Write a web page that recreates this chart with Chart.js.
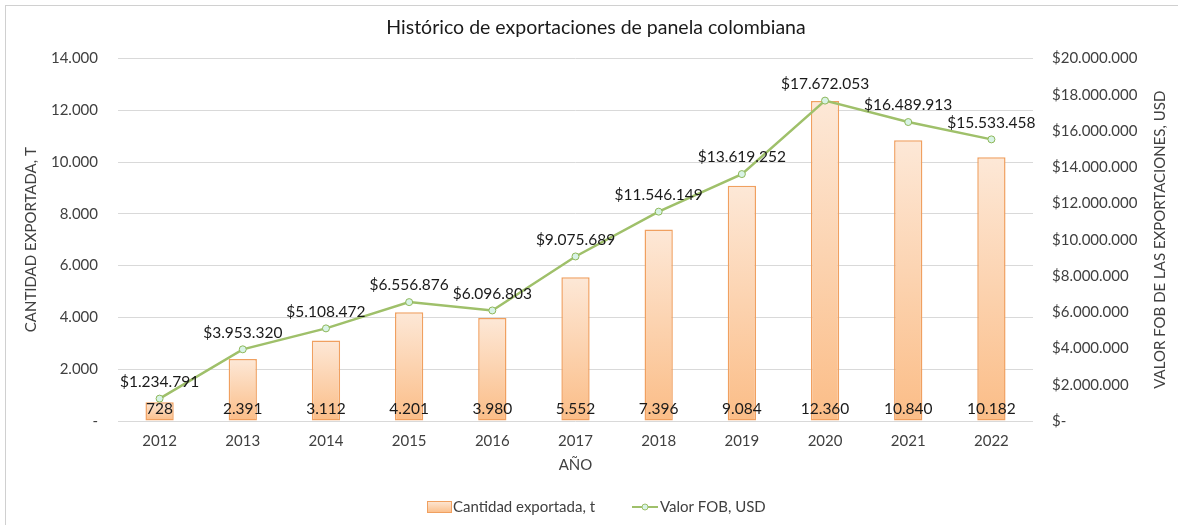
<!DOCTYPE html>
<html>
<head>
<meta charset="utf-8">
<script src="https://cdn.jsdelivr.net/npm/chart.js@4/dist/chart.umd.min.js"></script>
<style>
  html, body { margin: 0; padding: 0; background: #fff; }
  #wrap { width: 1178px; height: 525px; position: relative; }
</style>
</head>
<body>
<div id="wrap"><canvas id="panela"></canvas></div>
<script>
const years = ['2012', '2013', '2014', '2015', '2016', '2017', '2018', '2019', '2020', '2021', '2022'];
const cantidad = [728, 2391, 3112, 4201, 3980, 5552, 7396, 9084, 12360, 10840, 10182];
const valorFob = [1234791, 3953320, 5108472, 6556876, 6096803, 9075689, 11546149, 13619252, 17672053, 16489913, 15533458];

const FONT = 'Lato, "Open Sans", sans-serif';
const TXT = '#404040';

function fmt(n) {
  return String(Math.round(n)).replace(/\B(?=(\d{3})+(?!\d))/g, '.');
}

// bar fill: light at top, stronger orange at base
function barFill(context) {
  const chart = context.chart;
  const y = chart.scales && chart.scales.y;
  if (!y || context.raw == null) return '#fbd3b0';
  const top = y.getPixelForValue(context.raw);
  const base = y.getPixelForValue(0);
  if (!isFinite(top) || !isFinite(base) || top === base) return '#fbd3b0';
  const g = chart.ctx.createLinearGradient(0, top, 0, base);
  g.addColorStop(0, '#fde8d7');
  g.addColorStop(1, '#fbbd87');
  return g;
}

const labelsPlugin = {
  id: 'valueLabels',
  afterDatasetsDraw(chart) {
    const ctx = chart.ctx;
    ctx.save();
    ctx.font = '15.5px ' + FONT;
    ctx.fillStyle = '#1a1a1a';
    ctx.textAlign = 'center';
    ctx.textBaseline = 'bottom';
    // bar labels at inside base
    const base = chart.scales.y.getPixelForValue(0);
    chart.getDatasetMeta(1).data.forEach((bar, i) => {
      ctx.fillText(fmt(cantidad[i]), bar.x, base - 4);
    });
    // line labels above points
    chart.getDatasetMeta(0).data.forEach((pt, i) => {
      ctx.fillText('$' + fmt(valorFob[i]), pt.x, pt.y - 9);
    });
    ctx.restore();
  }
};

const framePlugin = {
  id: 'frame',
  beforeDraw(chart) {
    const ctx = chart.ctx;
    ctx.save();
    ctx.fillStyle = '#fff';
    ctx.fillRect(0, 0, chart.width, chart.height);
    ctx.strokeStyle = '#d0d0d0';
    ctx.lineWidth = 1;
    ctx.strokeRect(5.5, 5.5, chart.width + 20, chart.height + 20);
    ctx.restore();
  },
  afterDraw(chart) {
    const ctx = chart.ctx;
    const ds = chart.data.datasets;
    const area = chart.chartArea;
    ctx.save();
    // right axis title, reading bottom to top
    ctx.font = '15px ' + FONT;
    ctx.fillStyle = TXT;
    ctx.textAlign = 'center';
    ctx.textBaseline = 'middle';
    ctx.translate(1160, (area.top + area.bottom) / 2);
    ctx.rotate(-Math.PI / 2);
    ctx.fillText('VALOR FOB DE LAS EXPORTACIONES, USD', 0, 0);
    ctx.restore();

    // legend at the bottom
    ctx.save();
    ctx.font = '15px ' + FONT;
    ctx.textBaseline = 'middle';
    ctx.textAlign = 'left';
    const yMid = 507;
    let x = 427;
    const g = ctx.createLinearGradient(0, yMid - 6, 0, yMid + 6);
    g.addColorStop(0, '#fde8d7');
    g.addColorStop(1, '#fbbd87');
    ctx.fillStyle = g;
    ctx.fillRect(x, yMid - 6, 25, 12);
    ctx.strokeStyle = '#f0a060';
    ctx.strokeRect(x + 0.5, yMid - 5.5, 24, 11);
    ctx.fillStyle = TXT;
    ctx.fillText(ds[1].label, x + 26, yMid);
    x = 632;
    ctx.strokeStyle = '#9fc06a';
    ctx.lineWidth = 2;
    ctx.beginPath();
    ctx.moveTo(x, yMid);
    ctx.lineTo(x + 26, yMid);
    ctx.stroke();
    ctx.beginPath();
    ctx.arc(x + 13, yMid, 3, 0, Math.PI * 2);
    ctx.fillStyle = '#d8f3e6';
    ctx.fill();
    ctx.lineWidth = 1;
    ctx.stroke();
    ctx.fillStyle = TXT;
    ctx.fillText(ds[0].label, x + 28, yMid);
    ctx.restore();
  }
};

new Chart(document.getElementById('panela'), {
  data: {
    labels: years,
    datasets: [
      {
        type: 'line',
        label: 'Valor FOB, USD',
        data: valorFob,
        yAxisID: 'y1',
        borderColor: '#9fc06a',
        borderWidth: 2.5,
        pointRadius: 3.5,
        pointBackgroundColor: '#d8f3e6',
        pointBorderColor: '#8fb85a',
        pointBorderWidth: 1,
        tension: 0,
        order: 0
      },
      {
        type: 'bar',
        label: 'Cantidad exportada, t',
        data: cantidad,
        yAxisID: 'y',
        backgroundColor: barFill,
        borderColor: '#f0a060',
        borderWidth: 1.5,
        borderSkipped: false,
        categoryPercentage: 1,
        barPercentage: 0.34,
        order: 1
      }
    ]
  },
  options: {
    responsive: true,
    maintainAspectRatio: false,
    animation: false,
    layout: { padding: { left: 20, right: 6, top: 10, bottom: 47 } },
    plugins: {
      legend: { display: false },
      tooltip: { enabled: false },
      title: {
        display: true,
        text: 'Histórico de exportaciones de panela colombiana',
        color: '#1a1a1a',
        font: { family: FONT, size: 19.5, weight: 'normal' },
        padding: { top: 6, bottom: 19 }
      }
    },
    scales: {
      x: {
        grid: { display: false, drawTicks: false },
        border: { display: false },
        ticks: { color: TXT, font: { family: FONT, size: 15 }, padding: 11 },
        title: { display: true, text: 'AÑO', color: TXT, font: { family: FONT, size: 15 } },
        afterFit(scale) { scale.height = 57; }
      },
      y: {
        position: 'left',
        min: 0,
        max: 14000,
        grid: { color: '#d9d9d9', drawTicks: false },
        border: { display: false },
        ticks: {
          stepSize: 2000,
          color: TXT,
          padding: 20,
          font: { family: FONT, size: 15 },
          callback: v => v === 0 ? '-' : fmt(v)
        },
        title: { display: true, text: 'CANTIDAD EXPORTADA, T', color: TXT, font: { family: FONT, size: 15 }, padding: { top: 2, bottom: 4 } },
        afterFit(scale) { scale.width = 98; }
      },
      y1: {
        position: 'right',
        min: 0,
        max: 20000000,
        grid: { display: false, drawTicks: false },
        border: { display: false },
        ticks: {
          stepSize: 2000000,
          color: TXT,
          padding: 19,
          font: { family: FONT, size: 15 },
          callback: v => v === 0 ? '$-' : '$' + fmt(v)
        },
        afterFit(scale) { scale.width = 139; }
      }
    }
  },
  plugins: [framePlugin, labelsPlugin]
});
</script>
</body>
</html>
